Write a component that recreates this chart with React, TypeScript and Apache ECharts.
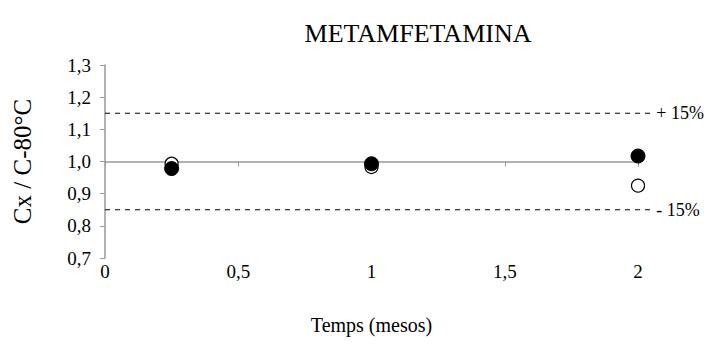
import React, { useEffect, useRef } from "react";
import * as echarts from "echarts";

const titleText = "METAMFETAMINA";
const xName = "Temps (mesos)";
const yName = "Cx / C-80°C";
const xTicks = [0, 0.5, 1, 1.5, 2];
const yTicks = [0.7, 0.8, 0.9, 1.0, 1.1, 1.2, 1.3];
const times = [0.25, 1, 2];
const openValues = [0.993, 0.983, 0.925];
const filledValues = [0.978, 0.993, 1.017];
const refValue = 1.0;
const limitValues = [1.15, 0.85];
const limitLabels = ["+ 15%", "- 15%"];
const limitEnd = 2.05;

const FONT = "Liberation Serif";

export default function App() {
  const ref = useRef<HTMLDivElement>(null);
  useEffect(() => {
    if (!ref.current) return;
    const chart = echarts.init(ref.current, undefined, { renderer: "svg" });
    const gridTop = 65;
    const gridBottom = 361 - 258;
    const gridH = 361 - gridTop - gridBottom;
    const yMin = yTicks[0];
    const yMax = yTicks[yTicks.length - 1];
    const refOffset = -((refValue - yMin) / (yMax - yMin)) * gridH;
    const axisColor = "#999999";
    const option: any = {
      animation: false,
      backgroundColor: "#ffffff",
      textStyle: { fontFamily: FONT, color: "#000" },
      title: {
        text: titleText,
        left: 413,
        top: 15,
        textAlign: "center",
        textStyle: { fontFamily: FONT, fontSize: 26, fontWeight: "normal", color: "#000" },
      },
      grid: { left: 105, right: 712 - 638, top: gridTop, bottom: gridBottom },
      xAxis: [
        {
          type: "value",
          min: xTicks[0],
          max: xTicks[xTicks.length - 1],
          interval: 0.5,
          position: "bottom",
          axisLine: { show: false },
          axisTick: { show: false },
          splitLine: { show: false },
          axisLabel: {
            margin: 4,
            fontFamily: FONT,
            fontSize: 19,
            color: "#000",
            formatter: (v: number) => String(v).replace(".", ","),
          },
          name: xName,
          nameLocation: "middle",
          nameGap: 57,
          nameTextStyle: { fontFamily: FONT, fontSize: 20, color: "#000" },
        },
        {
          type: "value",
          min: xTicks[0],
          max: xTicks[xTicks.length - 1],
          interval: 0.5,
          position: "bottom",
          offset: refOffset,
          axisLine: { show: true, onZero: false, lineStyle: { color: axisColor, width: 1.5 } },
          axisTick: { show: true, length: 5, lineStyle: { color: axisColor } },
          axisLabel: { show: false },
          splitLine: { show: false },
        },
      ],
      yAxis: {
        type: "value",
        min: yMin,
        max: yMax,
        interval: 0.1,
        axisLine: { show: true, lineStyle: { color: axisColor, width: 1.5 } },
        axisTick: { show: true, length: 5, lineStyle: { color: axisColor } },
        splitLine: { show: false },
        axisLabel: {
          margin: 14,
          fontFamily: FONT,
          fontSize: 19,
          color: "#000",
          formatter: (v: number) => v.toFixed(1).replace(".", ","),
        },
        name: yName,
        nameLocation: "middle",
        nameGap: 70,
        nameRotate: 90,
        nameTextStyle: { fontFamily: FONT, fontSize: 25, color: "#000" },
      },
      series: [
        {
          type: "custom",
          xAxisIndex: 0,
          clip: false,
          silent: true,
          data: limitValues.map((v, i) => [i, v]),
          renderItem: (_params: any, api: any) => {
            const i = api.value(0);
            const v = api.value(1);
            const p0 = api.coord([xTicks[0], v]);
            const p1 = api.coord([limitEnd, v]);
            return {
              type: "group",
              children: [
                {
                  type: "line",
                  shape: { x1: p0[0], y1: p0[1], x2: p1[0], y2: p1[1] },
                  style: { stroke: "#000", lineWidth: 1, lineDash: [5, 5] },
                },
                {
                  type: "text",
                  x: p1[0] + 5,
                  y: p1[1],
                  style: {
                    text: limitLabels[i],
                    fill: "#000",
                    fontSize: 18,
                    fontFamily: FONT,
                    align: "left",
                    verticalAlign: "middle",
                  },
                },
              ],
            };
          },
          z: 1,
        },
        {
          type: "scatter",
          xAxisIndex: 0,
          symbol: "circle",
          symbolSize: 13,
          itemStyle: { color: "#fff", borderColor: "#000", borderWidth: 1.2, opacity: 1 },
          data: times.map((t, i) => [t, openValues[i]]),
          z: 3,
        },
        {
          type: "scatter",
          xAxisIndex: 0,
          symbol: "circle",
          symbolSize: 14,
          itemStyle: { color: "#000", borderColor: "#000", borderWidth: 1, opacity: 1 },
          data: times.map((t, i) => [t, filledValues[i]]),
          z: 4,
        },
      ],
    };
    chart.setOption(option);
    return () => chart.dispose();
  }, []);
  return (
    <div
      ref={ref}
      style={{ position: "fixed", left: 0, top: 0, width: 712, height: 361, background: "#fff" }}
    />
  );
}
